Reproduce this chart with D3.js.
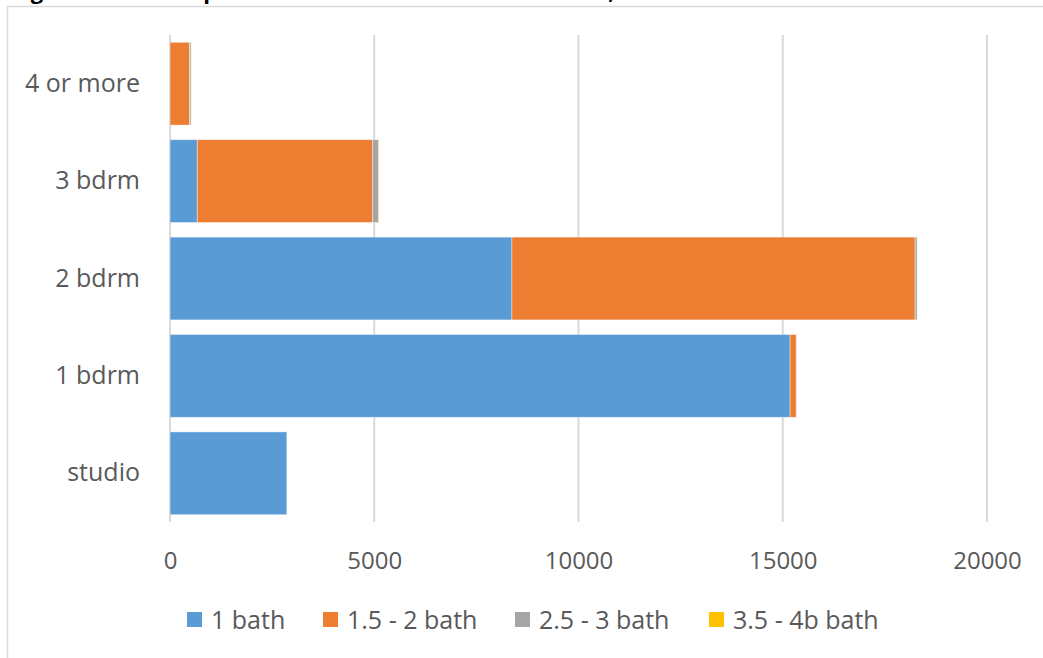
<!DOCTYPE html>
<html>
<head>
<meta charset="utf-8">
<script src="https://cdn.jsdelivr.net/npm/d3@7"></script>
<style>
  body { margin: 0; background: #fff; }
  svg { display: block; font-family: 'Open Sans', 'Liberation Sans', sans-serif; }
</style>
</head>
<body>
<svg id="chart" width="1043" height="658"></svg>
<script>
// ##### Data
var categories = ['studio', '1 bdrm', '2 bdrm', '3 bdrm', '4 or more'];
var seriesNames = ['1 bath', '1.5 - 2 bath', '2.5 - 3 bath', '3.5 - 4b bath'];
var bath1 = [2860, 15180, 8370, 668, 0];
var bath15to2 = [0, 150, 9870, 4295, 475];
var bath25to3 = [0, 10, 50, 145, 40];
var bath35to4 = [0, 0, 0, 10, 5];
var xTicks = [0, 5000, 10000, 15000, 20000];
var colours = ['#5B9BD5', '#ED7D31', '#A5A5A5', '#FFC000'];

var title = 'Figure 5: Rental Apartments with Bedrooms and Baths, 2016';

// Build rows for the stack layout
var rows = categories.map(function(c, i) {
  return { cat: c, s0: bath1[i], s1: bath15to2[i], s2: bath25to3[i], s3: bath35to4[i] };
});
var stack = d3.stack().keys(['s0', 's1', 's2', 's3'])(rows);

// ##### Layout
var svg = d3.select('#chart');
var margin = { left: 170, top: 35, bottom: 522 };

// Outer chart frame (top of the page is cut off, like the reference)
svg.append('rect')
  .attr('x', 7.5).attr('y', 6.5)
  .attr('width', 1040).attr('height', 670)
  .attr('fill', 'none')
  .attr('stroke', '#D9D9D9')
  .attr('stroke-width', 1.5);

// Title, mostly above the visible area
svg.append('text')
  .attr('x', 12).attr('y', -1)
  .attr('font-weight', 'bold')
  .attr('font-size', 22)
  .attr('fill', '#000')
  .text(title);

var x = d3.scaleLinear().domain([0, 20000]).range([margin.left, 987]);
var y = d3.scaleBand()
  .domain(categories.slice().reverse())
  .range([margin.top, margin.bottom])
  .paddingInner(0.15)
  .paddingOuter(0.075);

// Gridlines
svg.append('g')
  .selectAll('line')
  .data(xTicks)
  .enter()
  .append('line')
  .attr('x1', function(d) { return x(d); })
  .attr('x2', function(d) { return x(d); })
  .attr('y1', margin.top)
  .attr('y2', margin.bottom)
  .attr('stroke', '#D9D9D9')
  .attr('stroke-width', 2);

// Bars
svg.append('g')
  .selectAll('g')
  .data(stack)
  .enter()
  .append('g')
  .attr('fill', function(d, i) { return colours[i]; })
  .selectAll('rect')
  .data(function(d) { return d; })
  .enter()
  .append('rect')
  .attr('x', function(d) { return x(d[0]); })
  .attr('width', function(d) { return Math.max(0, x(d[1]) - x(d[0])); })
  .attr('y', function(d) { return y(d.data.cat); })
  .attr('height', y.bandwidth())
  .attr('stroke', '#fff')
  .attr('stroke-opacity', 0.5)
  .attr('stroke-width', 0.8);

// X axis labels
var xAxis = d3.axisBottom(x).tickValues(xTicks).tickSize(0).tickPadding(0).tickFormat(d3.format('d'));
var gx = svg.append('g')
  .attr('transform', 'translate(0,' + 547 + ')')
  .call(xAxis);
gx.select('.domain').remove();
gx.selectAll('text')
  .attr('font-family', "'Open Sans', sans-serif")
  .attr('font-size', 24)
  .attr('fill', '#595959')
  .attr('dy', '0.9em');

// Y axis labels
var yAxis = d3.axisLeft(y).tickSize(0).tickPadding(0);
var gy = svg.append('g')
  .attr('transform', 'translate(140,0)')
  .call(yAxis);
gy.select('.domain').remove();
gy.selectAll('text')
  .attr('font-family', "'Open Sans', sans-serif")
  .attr('font-size', 25)
  .attr('fill', '#595959');

// Legend
var legendTextX = [211, 347, 539, 733];
var legend = svg.append('g')
  .selectAll('g')
  .data(seriesNames)
  .enter()
  .append('g')
  .attr('transform', function(d, i) { return 'translate(' + legendTextX[i] + ',620)'; });

legend.append('rect')
  .attr('x', -24).attr('y', -8)
  .attr('width', 15).attr('height', 15)
  .attr('fill', function(d, i) { return colours[i]; });

legend.append('text')
  .attr('x', 0).attr('y', 0)
  .attr('dy', '0.35em')
  .attr('font-size', 25)
  .attr('fill', '#595959')
  .text(function(d) { return d; });
</script>
</body>
</html>
